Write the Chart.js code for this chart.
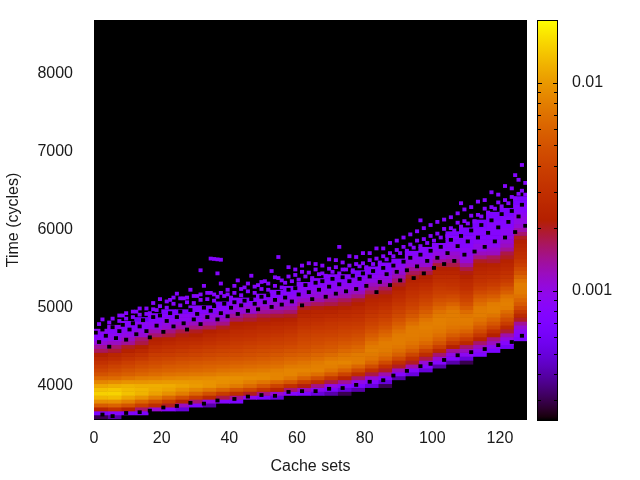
<!DOCTYPE html>
<html>
<head>
<meta charset="utf-8">
<script src="https://cdn.jsdelivr.net/npm/chart.js@4"></script>
<style>
html,body{margin:0;padding:0;background:#fff;overflow:hidden}
#wrap{position:relative;width:640px;height:480px}
canvas{position:absolute;top:0}
#heat{left:0}
#bar{left:527px}
</style>
</head>
<body>
<div id="wrap"><canvas id="heat" width="527" height="480"></canvas><canvas id="bar" width="113" height="480"></canvas></div>
<script>
const setCentres = [2,6,10,14,18,22,26,30,34,38,42,46,50,54,58,62,66,70,74,78,82,86,90,94,98,102,106,110,114,118,122,126];
// First time bin (cycles) of each column; later cells climb one time step each.
const firstBins = [3600,3600,3600,3650,3700,3700,3700,3750,3750,3800,3800,3850,3850,3850,3900,3900,3900,3900,3900,3900,4000,4000,4100,4150,4200,4250,4300,4300,4400,4450,4500,4600];
const timeStep = 50;
// Cell values in units of 0.0001.
const set002 = [3,7,24,55,90,125,150,135,112,85,64,50,42,36,31,26,22,17,14,11,9,8,9];
const set006 = [4,8,30,60,92,130,152,140,118,90,66,54,46,40,34,28,25,19,16,12,10,9,8,9];
const set010 = [2,7,22,50,80,110,135,130,122,95,72,58,50,43,38,32,28,23,20,14,12,10,9,8,8];
const set014 = [7,16,38,62,95,122,125,118,95,78,62,54,47,42,35,31,26,22,18,16,11,10,8,9,6];
const set018 = [11,28,48,78,105,115,118,98,80,66,58,50,45,40,36,31,28,24,22,16,13,10,9,8,8];
const set022 = [8,20,36,62,92,108,115,100,84,70,60,54,47,42,37,33,30,26,23,18,15,11,10,9,8,7];
const set026 = [5,12,24,48,78,95,108,100,86,72,62,55,50,44,39,35,31,28,25,21,18,13,11,9,9,7];
const set030 = [7,16,36,62,85,102,98,88,74,64,58,52,46,41,37,33,29,26,22,20,15,12,9,9,8,8];
const set034 = [4,10,26,48,74,95,95,90,76,66,60,54,48,43,39,35,31,28,25,22,17,13,11,10,8,8];
const set038 = [8,18,36,62,85,92,92,80,70,62,55,50,45,41,37,33,30,27,24,20,15,12,10,9,8,7];
const set042 = [7,14,28,50,76,88,92,82,72,64,57,51,46,42,38,35,32,29,27,24,22,17,14,11,10,9,8];
const set046 = [9,20,42,65,80,90,84,74,66,59,53,48,44,40,36,33,30,28,25,23,19,16,11,11,9,8];
const set050 = [7,15,32,52,72,88,86,76,68,61,55,50,46,42,38,35,32,29,27,24,21,18,14,12,10,9,8];
const set054 = [5,11,24,40,62,84,84,80,70,64,58,52,47,43,39,36,33,30,28,25,22,19,15,12,11,10,8,8];
const set058 = [8,16,30,52,74,84,84,76,68,62,55,50,45,41,38,35,32,29,26,23,20,16,13,11,10,9,8,8];
const set062 = [7,12,21,38,60,76,84,78,72,64,58,52,48,45,42,39,36,33,30,28,25,23,20,15,12,10,9,9,8];
const set066 = [5,9,15,28,47,68,82,80,76,68,62,55,50,46,43,40,37,34,31,28,26,24,21,17,13,11,10,9,8,8];
const set070 = [4,7,10,18,34,54,72,80,82,74,66,58,53,49,45,41,38,35,33,30,27,24,22,18,15,12,10,9,9,8,8];
const set074 = [3,5,8,14,24,40,60,74,84,78,72,64,57,52,47,43,40,37,34,31,28,26,23,20,17,13,11,10,9,8,8];
const set078 = [2,4,7,10,16,28,44,62,78,78,76,68,62,55,50,46,42,38,35,32,30,27,25,22,20,15,12,10,9,9,8,7];
const set082 = [5,8,11,18,30,46,62,72,76,80,76,70,62,55,49,44,40,37,34,31,28,26,24,21,17,14,12,10,9,8,8];
const set086 = [3,5,8,13,20,30,44,60,70,76,78,78,72,64,57,50,45,41,37,34,31,28,25,23,20,17,13,11,10,9,8,8];
const set090 = [4,8,12,20,30,44,58,68,74,78,78,76,70,62,55,49,44,40,36,33,30,27,25,22,20,16,13,11,10,9,8];
const set094 = [5,8,13,20,30,42,56,66,72,76,78,78,76,68,60,53,47,42,38,35,32,30,27,25,23,20,17,14,11,10,9,8];
const set098 = [5,8,11,18,28,40,54,64,72,76,78,80,78,72,64,56,50,44,40,36,33,30,27,24,22,18,15,11,10,9,8,8];
const set102 = [4,8,11,16,26,38,50,60,68,74,78,80,80,76,70,62,54,48,42,38,35,32,29,27,24,22,19,14,11,10,9,8];
const set106 = [4,8,10,14,22,34,45,56,66,72,76,78,78,76,70,60,50,44,38,34,31,29,27,24,22,18,15,12,11,9,9,8,8,7];
const set110 = [3,5,9,12,16,26,36,48,60,70,76,78,74,66,56,48,42,38,34,30,28,26,23,21,18,14,11,10,9,9,8,8,8,7,7];
const set114 = [7,9,12,16,24,34,44,54,64,72,78,78,76,68,60,52,44,38,34,31,29,26,24,22,20,15,12,10,10,9,8,8,8,7,7];
const set118 = [7,9,12,15,22,30,42,52,62,72,80,80,78,66,56,48,42,36,33,30,27,25,23,19,17,12,11,9,9,8,8,8,8,8,7,7];
const set122 = [6,8,10,13,19,26,36,46,56,66,78,80,78,70,58,50,42,36,33,30,27,25,23,20,18,14,12,11,10,9,9,8,8,8,7,7];
const set126 = [7,8,9,11,14,20,26,34,44,54,62,70,76,78,78,70,60,50,44,38,34,30,28,26,24,22,20,16,13,11,10,10,9,8,8,7,7];
const columns = [set002,set006,set010,set014,set018,set022,set026,set030,set034,set038,set042,set046,set050,set054,set058,set062,set066,set070,set074,set078,set082,set086,set090,set094,set098,set102,set106,set110,set114,set118,set122,set126];
// Single-set purple cells scattered above the band: [set, time]
const sparseCells = [[1,4790],[2,4850],[4,4810],[5,4860],[7,4830],[8,4900],[9,4860],[11,4880],[12,4950],[13,4910],[15,4990],[16,4930],[17,5060],[18,4970],[19,5020],[21,5000],[22,5100],[23,5050],[24,5180],[25,5030],[26,5120],[27,5070],[28,5230],[29,5060],[30,5150],[31,5100],[32,5280],[33,5110],[34,5190],[35,5090],[36,5140],[37,5310],[38,5150],[39,5230],[40,5130],[41,5190],[42,5350],[43,5160],[44,5260],[45,5210],[46,5410],[47,5190],[48,5290],[49,5240],[50,5340],[51,5230],[52,5470],[53,5280],[54,5380],[55,5260],[56,5320],[57,5520],[58,5340],[59,5420],[60,5360],[61,5460],[62,5400],[63,5570],[64,5380],[65,5490],[66,5430],[67,5540],[68,5410],[69,5620],[70,5460],[71,5520],[72,5440],[73,5580],[74,5490],[75,5660],[76,5480],[77,5560],[78,5530],[79,5700],[80,5520],[81,5610],[82,5560],[83,5760],[84,5580],[85,5660],[86,5620],[87,5830],[88,5660],[89,5740],[90,5700],[91,5900],[92,5730],[93,5810],[94,5770],[95,5980],[96,5790],[97,5880],[98,5830],[99,6060],[100,5860],[101,5950],[102,5900],[103,6130],[104,5920],[105,6020],[106,5990],[107,6210],[108,6040],[109,6110],[110,6080],[111,6290],[112,6110],[113,6190],[114,6170],[115,6380],[116,6220],[117,6290],[118,6270],[119,6450],[120,6300],[121,6380],[122,6340],[123,6530],[124,6400],[125,6460],[126,6500],[127,6600],[127,6450],[125,6640],[123,6420],[121,6560],[119,6350],[117,6480],[115,6270],[113,6360],[111,6180],[109,6260],[107,6090],[105,6160],[103,6010],[101,6100],[99,5920],[97,6020],[95,5860],[93,5940],[91,5780],[89,5860],[87,5700],[85,5760],[83,5630],[81,5700],[79,5570],[77,5650],[75,5540],[73,5490],[71,5610],[69,5500],[67,5440],[65,5560],[63,5450],[61,5540],[59,5490],[57,5400],[55,5350],[53,5390],[51,5310],[49,5330],[47,5270],[45,5310],[43,5240],[41,5280],[39,5170],[37,5190],[35,5170],[33,5190],[31,5170],[29,5150],[27,5130],[25,5120],[23,5130],[21,5080],[19,5110],[17,4980],[15,4920],[13,4990],[11,4950],[9,4930],[7,4900],[126,6830],[124,6700],[108,6340],[96,6120],[72,5780],[54,5650],[36,5440],[31,5480],[34,5630],[35,5625],[36,5620],[37,5615]];
const sparseValue = 8;
// Empty single-set cells (holes) inside the purple edges: [set, time]
const holeCells = [[0,4680],[1,4560],[2,4720],[3,4640],[4,4500],[5,4750],[6,4610],[7,4700],[8,4780],[9,4590],[10,4720],[11,4800],[12,4660],[13,4760],[14,4840],[15,4700],[16,4620],[17,4880],[18,4770],[19,4900],[20,4690],[21,4830],[22,4930],[23,4760],[24,4880],[25,4950],[26,4800],[27,4720],[28,4970],[29,4850],[30,4920],[31,4790],[32,5000],[33,4880],[34,4960],[35,5020],[36,4850],[37,4930],[38,5050],[39,4890],[40,5000],[41,5070],[42,4920],[43,5030],[44,5090],[45,4960],[46,5110],[47,5050],[48,4980],[49,5140],[50,5070],[51,5160],[52,5010],[53,5100],[54,5190],[55,5040],[56,5130],[57,5230],[58,5080],[59,5250],[60,5170],[61,5030],[62,5290],[63,5200],[64,5110],[65,5320],[66,5230],[67,5340],[68,5140],[69,5270],[70,5370],[71,5180],[72,5300],[73,5390],[74,5210],[75,5340],[76,5410],[77,5240],[78,5370],[79,5440],[80,5280],[81,5400],[82,5470],[83,5200],[84,5330],[85,5510],[86,5430],[87,5290],[88,5540],[89,5460],[90,5350],[91,5590],[92,5480],[93,5640],[94,5380],[95,5530],[96,5680],[97,5440],[98,5600],[99,5730],[100,5510],[101,5640],[102,5780],[103,5560],[104,5700],[105,5870],[106,5600],[107,5790],[108,5920],[109,5680],[110,5850],[111,5990],[112,5720],[113,5900],[114,6060],[115,5780],[116,5960],[117,6120],[118,5850],[119,6030],[120,6200],[121,5900],[122,6100],[123,6240],[124,5970],[125,6170],[126,6320],[127,6050],[2,3630],[5,3610],[9,3650],[13,3660],[16,3680],[20,3720],[24,3740],[28,3780],[32,3770],[36,3810],[41,3830],[45,3860],[49,3880],[53,3870],[57,3920],[61,3930],[65,3930],[69,3960],[73,3970],[77,4010],[81,4050],[85,4070],[88,4130],[92,4190],[96,4250],[99,4280],[103,4330],[107,4390],[111,4430],[115,4470],[119,4520],[123,4560],[126,4640]];
const cellTimeHeight = 40;
const valueUnit = 0.0001;
const xTickValues = [0,20,40,60,80,100,120];
const yTickValues = [4000,5000,6000,7000,8000];
const xTitle = 'Cache sets', yTitle = 'Time (cycles)';
const colorbarLabels = [0.01, 0.001];
const cbTickValues = [0.0003,0.0004,0.0005,0.0006,0.0007,0.0008,0.0009,0.001,0.002,0.003,0.004,0.005,0.006,0.007,0.008,0.009,0.01];
const cbMin = 0.00024, cbMax = 0.02;

// gnuplot default palette (rgbformulae 7,5,15) on a log colour scale
function paletteAt(t){
  t = Math.max(0, Math.min(1, t));
  const r = Math.sqrt(t), g = t*t*t, b = Math.max(0, Math.sin(2*Math.PI*t));
  return 'rgb(' + Math.round(255*r) + ',' + Math.round(255*g) + ',' + Math.round(255*b) + ')';
}
function colourOf(v){
  return paletteAt((Math.log10(v) - Math.log10(cbMin)) / (Math.log10(cbMax) - Math.log10(cbMin)));
}

const font16 = {family:'"Liberation Sans", Arial, sans-serif', size:16};
const textColour = '#1a1a1a';
const blockWidthPx = 13.6, cellWidthPx = 3.4;

const cellPoint = ([s, t]) => ({x: s + 0.5, y: [t - cellTimeHeight / 2, t + cellTimeHeight / 2]});
const columnDatasets = columns.map((col, c) => {
  const data = [], colours = [];
  col.forEach((v, i) => {
    if (v) {
      const t = firstBins[c] + i * timeStep;
      data.push({x: setCentres[c], y: [t - timeStep / 2, t + timeStep / 2]});
      colours.push(colourOf(v * valueUnit));
    }
  });
  return {data, backgroundColor: colours, borderWidth: 0, barThickness: blockWidthPx, grouped: false};
});
// The first dataset is painted last, so the single-set cells go on top of the blocks.
const heatDatasets = [
  {data: holeCells.map(cellPoint), backgroundColor: '#000', borderWidth: 0, barThickness: cellWidthPx, grouped: false},
  {data: sparseCells.map(cellPoint), backgroundColor: colourOf(sparseValue * valueUnit), borderWidth: 0, barThickness: cellWidthPx, grouped: false}
].concat(columnDatasets);

const blackArea = {
  id: 'blackArea',
  beforeDraw(chart){
    const a = chart.chartArea, c = chart.ctx;
    c.save(); c.fillStyle = '#000'; c.fillRect(a.left, a.top, a.width, a.height); c.restore();
  }
};
function noEdgePadding(s){ s.paddingTop = 0; s.paddingBottom = 0; s.paddingLeft = 0; s.paddingRight = 0; }

new Chart(document.getElementById('heat'), {
  type: 'bar',
  data: {datasets: heatDatasets},
  plugins: [blackArea],
  options: {
    responsive: false, animation: false,
    layout: {padding: {top: 20, right: 0, left: 0, bottom: 0}},
    plugins: {legend: {display: false}, tooltip: {enabled: false}, title: {display: false}},
    scales: {
      x: {
        type: 'linear', min: 0, max: 128, offset: false,
        grid: {display: false}, border: {display: false},
        afterBuildTicks(s){ s.ticks = xTickValues.map(v => ({value: v})); },
        ticks: {maxRotation: 0, autoSkip: false, font: font16, color: textColour, padding: 1},
        title: {display: true, text: xTitle, font: font16, color: textColour, padding: {top: 0, bottom: 4}},
        afterFit(s){ s.height = 60; noEdgePadding(s); }
      },
      y: {
        type: 'linear', min: 3560, max: 8689,
        grid: {display: false}, border: {display: false},
        afterBuildTicks(s){ s.ticks = yTickValues.map(v => ({value: v})); },
        ticks: {autoSkip: false, font: font16, color: textColour, padding: 13, callback: v => String(v)},
        title: {display: true, text: yTitle, font: font16, color: textColour, padding: {top: 4, bottom: 0}},
        afterFit(s){ s.width = 94; noEdgePadding(s); }
      }
    }
  }
});

const barOutline = {
  id: 'barOutline',
  afterDraw(chart){
    const a = chart.chartArea, c = chart.ctx, s = chart.scales.y;
    c.save(); c.strokeStyle = '#000'; c.lineWidth = 1;
    c.strokeRect(a.left + 0.5, a.top + 0.5, a.width - 1, a.height);
    c.beginPath();
    s.ticks.forEach(t => {
      const y = Math.round(s.getPixelForValue(t.value)) + 0.5;
      const len = colorbarLabels.includes(t.value) ? 5 : 4;
      c.moveTo(a.left, y); c.lineTo(a.left + len, y);
      c.moveTo(a.right, y); c.lineTo(a.right - len, y);
    });
    c.stroke();
    c.restore();
  }
};
function cbGradient(ctx){
  const chart = ctx.chart, a = chart.chartArea;
  if (!a) return '#000';
  const g = chart.ctx.createLinearGradient(0, a.bottom, 0, a.top);
  for (let i = 0; i <= 128; i++) g.addColorStop(i/128, paletteAt(i/128));
  return g;
}
new Chart(document.getElementById('bar'), {
  type: 'bar',
  data: {labels: [''], datasets: [{data: [[cbMin, cbMax]], backgroundColor: cbGradient, borderWidth: 0, barPercentage: 1, categoryPercentage: 1}]},
  plugins: [barOutline],
  options: {
    responsive: false, animation: false,
    layout: {padding: {top: 20, right: 0, left: 10, bottom: 60}},
    plugins: {legend: {display: false}, tooltip: {enabled: false}},
    scales: {
      x: {display: false},
      y: {
        type: 'logarithmic', min: cbMin, max: cbMax, position: 'right',
        border: {display: false},
        grid: {display: false},
        afterBuildTicks(s){ s.ticks = cbTickValues.map(v => ({value: v})); },
        ticks: {autoSkip: false, font: font16, color: textColour, padding: 6, callback: v => colorbarLabels.includes(v) ? String(v) : ''},
        afterFit(s){ s.width = 82; noEdgePadding(s); }
      }
    }
  }
});
</script>
</body>
</html>
